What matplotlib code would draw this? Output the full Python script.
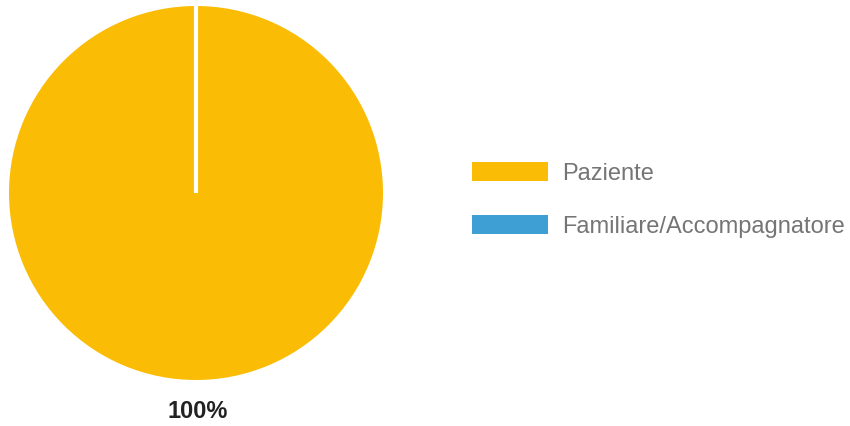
import matplotlib.pyplot as plt
from matplotlib.patches import Rectangle

labels = ["Paziente", "Familiare/Accompagnatore"]
values = [100, 0]
colors = ["#FBBC05", "#3E9FD5"]
pct_label = "100%"

plt.rcParams['font.family'] = ['Liberation Sans', 'DejaVu Sans']

fig = plt.figure(figsize=(8.5, 4.26), dpi=100)
ax = fig.add_axes([0, 0, 1, 1])

# zero-size slice leaves the white border line at the top, like the original
wedges, _ = ax.pie(values, colors=colors, startangle=90, counterclock=False,
                   center=(196, 233), radius=187,
                   wedgeprops=dict(edgecolor="white", linewidth=3))
wedges[0].set_linewidth(0)
ax.set_xlim(0, 850)
ax.set_ylim(0, 426)
ax.set_aspect('equal')
ax.axis('off')

ax.text(198, 15, pct_label, ha="center", va="center", fontsize=17,
        fontweight="bold", color="#222222")

# legend on the right
for i, (lab, col) in enumerate(zip(labels, colors)):
    y = 254.5 - i * 52.5
    ax.add_patch(Rectangle((472, y - 9.5), 76, 19, color=col, lw=0))
    ax.text(562, y, lab, ha="left", va="center_baseline", fontsize=17,
            color="#757575")

fig.savefig("out.png", dpi=100)
